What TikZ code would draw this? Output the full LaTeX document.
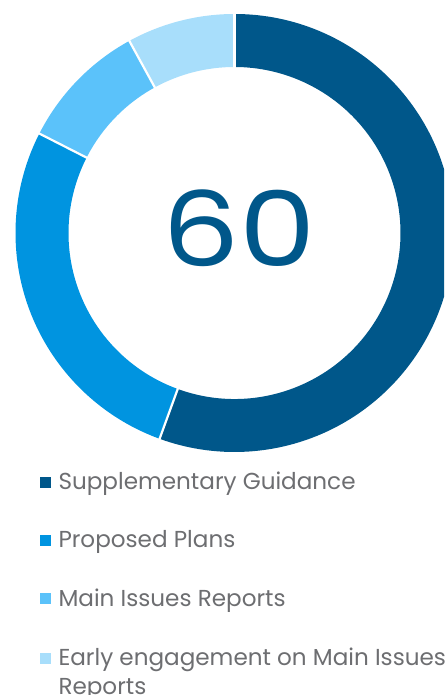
\documentclass[tikz,border=0pt]{standalone}
\usepackage{fontspec}
\setmainfont{Poppins}
\definecolor{cdark}{HTML}{00578A}
\definecolor{cprop}{HTML}{0094E0}
\definecolor{cmain}{HTML}{5BC2FA}
\definecolor{clight}{HTML}{A8DEFB}
\definecolor{cgray}{HTML}{6D6E71}
\tikzset{
  legtext/.style={anchor=base west, inner sep=0pt, text=cgray, font=\fontsize{23.1}{29}\selectfont},
  legbox/.style={minimum size=11pt, inner sep=0pt, anchor=south west},
  sep/.style={white, line width=2.2pt}
}
\newcommand{\ringseg}[3]{%
  \fill[#3] (#1:219) arc[start angle=#1, end angle=#2, radius=219] -- (#2:166) arc[start angle=#2, end angle=#1, radius=166] -- cycle;}
\begin{document}
\begin{tikzpicture}[x=1pt,y=1pt]
\useasboundingbox (0,0) rectangle (444,695);
\clip (0,0) rectangle (444,695);
\begin{scope}[shift={(234.5,462)}]
  \ringseg{90}{-110}{cdark}
  \ringseg{153}{250}{cprop}
  \ringseg{118.7}{153}{cmain}
  \ringseg{90}{118.7}{clight}
  \foreach \a in {90,-110,153,118.7} \draw[sep] (\a:164) -- (\a:221);
  \node[text=cdark, font=\fontsize{104}{104}\selectfont, inner sep=0pt] (num) at (4.5,5) {\scalebox{1.17}[1]{60}};
\end{scope}
\node[legbox, fill=cdark] (b1) at (40,207) {};
\node[legtext] (t1) at (58.3,205) {Supplementary Guidance};
\node[legbox, fill=cprop] (b2) at (40,149) {};
\node[legtext] (t2) at (58.3,147) {Proposed Plans};
\node[legbox, fill=cmain] (b3) at (40,90.3) {};
\node[legtext] (t3) at (58.3,88.3) {Main Issues Reports};
\node[legbox, fill=clight] (b4) at (40,31) {};
\node[legtext, align=left, anchor=north west] (t4) at (58.3,47.5) {Early engagement on Main Issues\\Reports};
\end{tikzpicture}
\end{document}
